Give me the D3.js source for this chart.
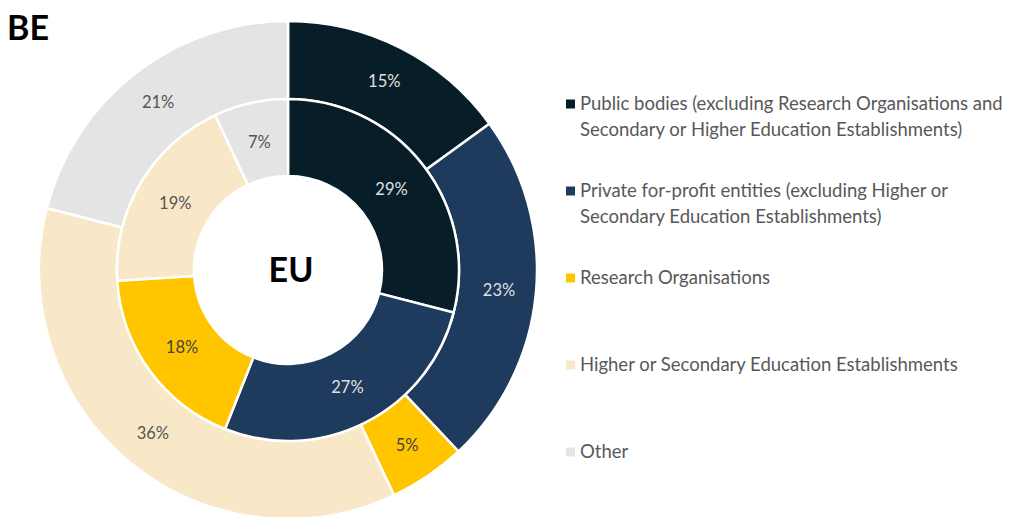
<!DOCTYPE html>
<html><head><meta charset="utf-8">
<script src="https://cdn.jsdelivr.net/npm/d3@7"></script>
<style>body{margin:0;background:#fff}svg{display:block}</style>
</head><body>
<svg id="c" width="1012" height="517"></svg>
<script>
const categories = [
  "Public bodies (excluding Research Organisations and|Secondary or Higher Education Establishments)",
  "Private for-profit entities (excluding Higher or|Secondary Education Establishments)",
  "Research Organisations",
  "Higher or Secondary Education Establishments",
  "Other"
];
const beValues = [15, 23, 5, 36, 21];
const euValues = [29, 27, 18, 19, 7];
const colors = ["#071e29", "#1e3a5c", "#ffc600", "#f9e8c7", "#e4e4e4"];
const labelColors = ["#e0e0e0", "#e0e0e0", "#444", "#555", "#555"];

const svg = d3.select("#c");
const font = "'Lato', 'Noto Sans', sans-serif";
const cx = 288, cy = 270;
const pie = d3.pie().sort(null).value(d => d);

function ring(values, r0, r1, lr) {
  const arc = d3.arc().innerRadius(r0).outerRadius(r1);
  const larc = d3.arc().innerRadius(lr).outerRadius(lr);
  const g = svg.append("g").attr("transform", `translate(${cx},${cy})`);
  const arcs = pie(values);
  g.selectAll("path").data(arcs).join("path")
    .attr("d", arc).attr("fill", (d, i) => colors[i])
    .attr("stroke", "#fff").attr("stroke-width", 2.5);
  g.selectAll("text").data(arcs).join("text")
    .attr("transform", d => `translate(${larc.centroid(d)})`)
    .attr("text-anchor", "middle").attr("dy", "0.35em")
    .attr("font-family", font).attr("font-size", 16.5)
    .attr("fill", (d, i) => labelColors[i])
    .text(d => d.data + "%");
}
ring(beValues, 171, 249, 212);
ring(euValues, 94, 171, 131);

svg.append("text").attr("x", cx + 3).attr("y", cy).attr("dy", "0.35em")
  .attr("text-anchor", "middle").attr("font-family", font)
  .attr("font-weight", "bold").attr("font-size", 34).attr("fill", "#000").text("EU");
svg.append("text").attr("x", 7).attr("y", 40)
  .attr("font-family", font).attr("font-weight", "bold")
  .attr("font-size", 34).attr("fill", "#000").text("BE");

const lg = svg.append("g");
const items = lg.selectAll("g").data(categories).join("g")
  .attr("transform", (d, i) => `translate(566,${104 + i * 87})`);
items.append("rect").attr("x", 0).attr("y", -4.5).attr("width", 9).attr("height", 9)
  .attr("fill", (d, i) => colors[i]);
items.each(function(d) {
  const t = d3.select(this).append("text").attr("x", 14).attr("y", 0)
    .attr("font-family", font).attr("font-size", 18.5).attr("fill", "#585858");
  d.split("|").forEach((line, j) => {
    t.append("tspan").attr("x", 14).attr("y", j * 26).attr("dy", "0.35em").text(line);
  });
});
</script>
</body></html>
